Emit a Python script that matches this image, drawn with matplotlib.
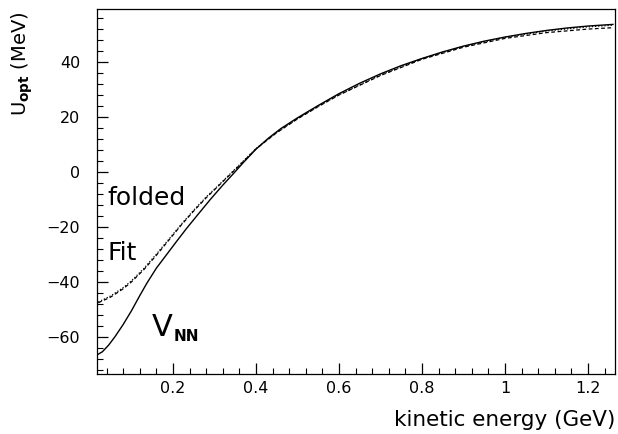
import matplotlib
matplotlib.use("Agg")
import matplotlib.pyplot as plt
from matplotlib.ticker import MultipleLocator, AutoMinorLocator

# V_NN (solid)
x_nn = [0.02, 0.03, 0.045, 0.06, 0.08, 0.10, 0.12, 0.137, 0.16, 0.185, 0.21, 0.233,
        0.26, 0.29, 0.32, 0.345, 0.37, 0.40, 0.43, 0.46, 0.50, 0.55, 0.60, 0.65, 0.70,
        0.75, 0.80, 0.85, 0.90, 0.95, 1.00, 1.05, 1.10, 1.15, 1.20, 1.26]
y_nn = [-66.3, -65.4, -63.0, -60.0, -55.5, -50.5, -45.0, -40.5, -35.0, -30.0, -25.0, -20.5,
        -15.5, -10.0, -4.8, -0.7, 3.5, 8.3, 12.3, 15.8, 19.7, 24.2, 28.5, 32.3, 35.7,
        38.7, 41.3, 43.7, 45.8, 47.6, 49.1, 50.4, 51.5, 52.4, 53.1, 53.7]

# folded (dashed) and Fit (dotted)
x_fold = [0.02, 0.05, 0.08, 0.10, 0.13, 0.16, 0.19, 0.22, 0.25, 0.28, 0.31, 0.35, 0.40,
          0.45, 0.50, 0.55, 0.60, 0.70, 0.80, 0.90, 1.00, 1.10, 1.20, 1.26]
y_fold = [-47.6, -45.5, -42.5, -40.0, -35.5, -30.3, -24.8, -19.3, -14.2, -9.4, -5.0, 0.9, 8.4,
          14.3, 19.3, 23.8, 28.0, 35.1, 41.0, 45.4, 48.6, 50.7, 52.0, 52.5]
y_fit = [-47.3, -45.1, -42.1, -39.6, -35.1, -29.9, -24.5, -19.0, -13.9, -9.1, -4.8, 1.1, 8.5,
         14.4, 19.4, 23.9, 28.1, 35.3, 41.2, 45.7, 49.0, 51.3, 52.8, 53.4]

fig = plt.figure(figsize=(6.18, 4.34), dpi=100)
ax = fig.add_axes([97/618, 1-374/434, 518/618, 365/434])

ax.plot(x_nn, y_nn, color="black", lw=1.0)
ax.plot(x_fold, y_fold, color="black", lw=0.9, linestyle=(0, (3, 2)))
ax.plot(x_fold, y_fit, color="black", lw=0.9, linestyle=(0, (1, 1.5)))

ax.set_xlim(0.017, 1.265)
ax.set_ylim(-73.5, 59.3)

ax.xaxis.set_major_locator(MultipleLocator(0.2))
ax.xaxis.set_minor_locator(AutoMinorLocator(5))
ax.yaxis.set_major_locator(MultipleLocator(20))
ax.yaxis.set_minor_locator(AutoMinorLocator(5))
ax.set_xticks([0.2, 0.4, 0.6, 0.8, 1.0, 1.2])
ax.set_xticklabels(["0.2", "0.4", "0.6", "0.8", "1", "1.2"])

ax.tick_params(which="both", direction="in", top=False, right=False, labelsize=11.5)
ax.tick_params(which="major", length=8, width=0.9)
ax.tick_params(which="minor", length=4, width=0.8)
ax.tick_params(axis="y", pad=12)
ax.tick_params(axis="x", pad=5)
for s in ax.spines.values():
    s.set_linewidth(0.9)

ax.text(0.043, -12, "folded", fontsize=18, ha="left", va="baseline")
ax.text(0.043, -32, "Fit", fontsize=18, ha="left", va="baseline")
ax.text(0.150, -59.6, "V", fontsize=22, ha="left", va="baseline")
ax.text(0.202, -61.5, "NN", fontsize=11, fontweight="bold", ha="left", va="baseline")

fig.text(22/618, 1-64/434, r"U$_{\mathbf{opt}}$ (MeV)", rotation=90,
         ha="center", va="center", fontsize=14)
fig.text(615/618, 1-420/434, "kinetic energy (GeV)", ha="right", va="center",
         fontsize=15.5)

fig.savefig("out.png", dpi=100)
